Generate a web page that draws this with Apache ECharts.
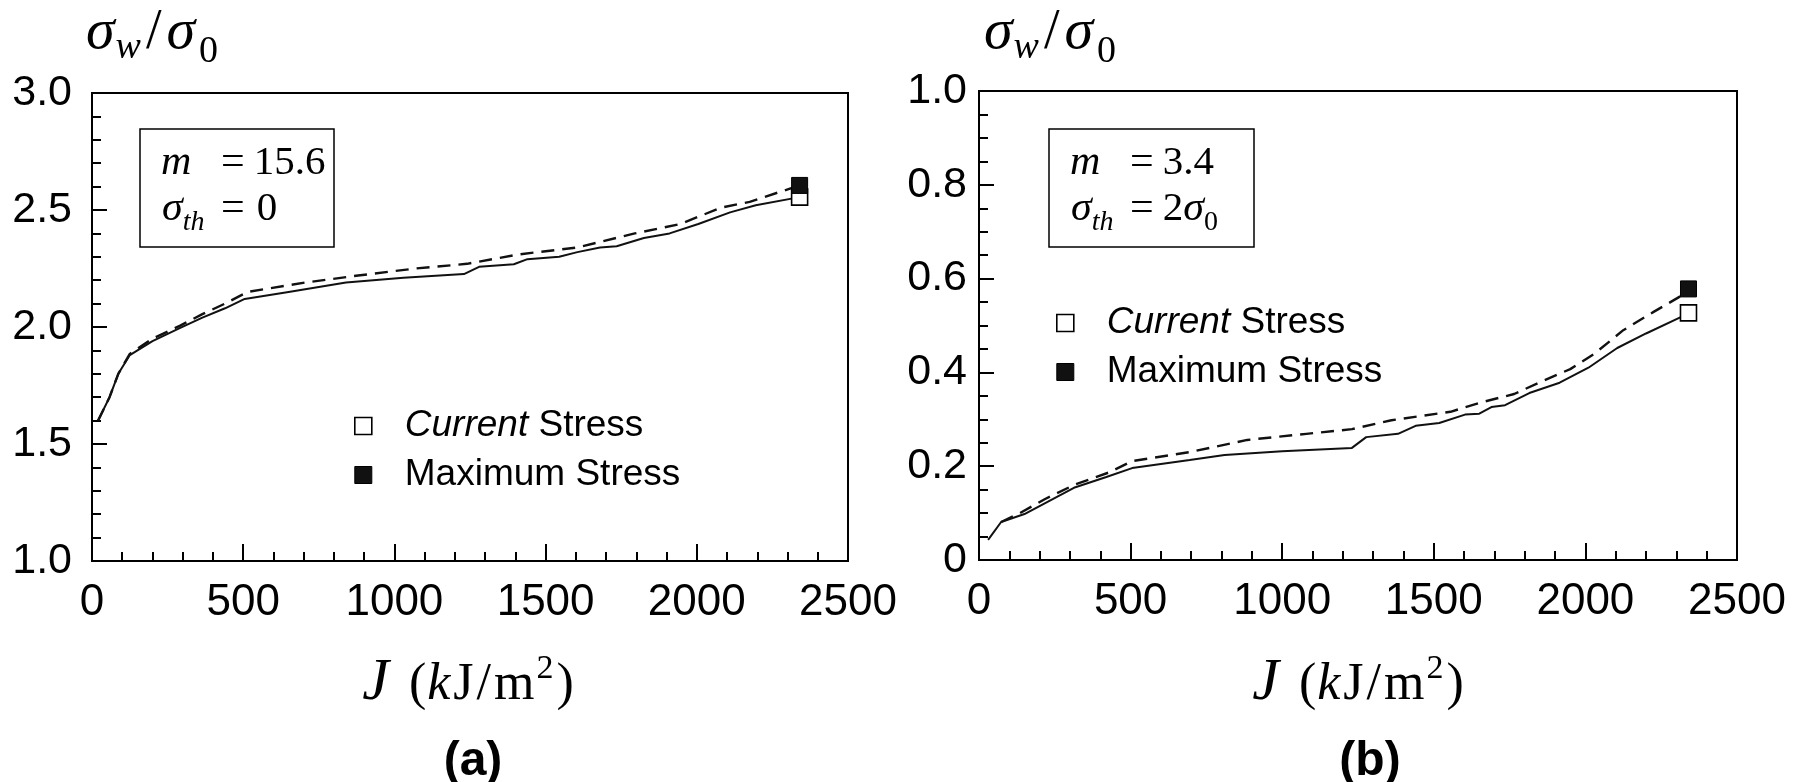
<!DOCTYPE html>
<html>
<head>
<meta charset="utf-8">
<script src="https://cdn.jsdelivr.net/npm/echarts@6/dist/echarts.min.js"></script>
<style>
  html, body { margin: 0; padding: 0; background: #fff; }
  #chart { width: 1804px; height: 782px; }
</style>
</head>
<body>
<div id="chart"></div>
<script>
// ---- data: panel (a), m = 15.6, sigma_th = 0 ----
const aCurrentJ = [20, 58, 87, 125, 200, 290, 365, 440, 505, 650, 840, 1030, 1230, 1280, 1395, 1440, 1545, 1605, 1680, 1735, 1825, 1910, 2005, 2110, 2195, 2340];
const aCurrentS = [1.60, 1.70, 1.80, 1.88, 1.94, 1.995, 2.04, 2.08, 2.12, 2.15, 2.19, 2.21, 2.226, 2.257, 2.268, 2.29, 2.30, 2.32, 2.34, 2.345, 2.38, 2.40, 2.44, 2.49, 2.52, 2.555];
const aMaximumJ = [20, 58, 87, 125, 200, 290, 365, 440, 515, 705, 880, 1070, 1240, 1410, 1605, 1795, 1945, 2080, 2175, 2340];
const aMaximumS = [1.60, 1.70, 1.80, 1.885, 1.95, 2.005, 2.055, 2.10, 2.15, 2.19, 2.22, 2.25, 2.27, 2.31, 2.34, 2.40, 2.44, 2.51, 2.535, 2.605];

// ---- data: panel (b), m = 3.4, sigma_th = 2 sigma_0 ----
const bCurrentJ = [30, 73, 150, 313, 420, 505, 695, 810, 1000, 1230, 1277, 1382, 1440, 1518, 1603, 1650, 1690, 1735, 1815, 1915, 2010, 2105, 2200, 2318, 2340];
const bCurrentS = [0.043, 0.081, 0.098, 0.154, 0.177, 0.196, 0.213, 0.224, 0.232, 0.239, 0.262, 0.269, 0.286, 0.292, 0.310, 0.312, 0.326, 0.330, 0.356, 0.378, 0.410, 0.452, 0.483, 0.519, 0.527];
const bMaximumJ = [73, 135, 218, 313, 430, 505, 695, 885, 1080, 1230, 1360, 1555, 1650, 1765, 1860, 1950, 2030, 2125, 2225, 2310, 2340];
const bMaximumS = [0.081, 0.100, 0.130, 0.160, 0.187, 0.211, 0.230, 0.256, 0.269, 0.279, 0.298, 0.316, 0.335, 0.354, 0.382, 0.407, 0.440, 0.490, 0.529, 0.561, 0.578];

// ---- tick labels ----
const xTickLabels = ['0', '500', '1000', '1500', '2000', '2500'];
const aYTickLabels = ['1.0', '1.5', '2.0', '2.5', '3.0'];
const bYTickLabels = ['0', '0.2', '0.4', '0.6', '0.8', '1.0'];

const seriesNames = ['Current Stress', 'Maximum Stress'];

const SANS = "'Liberation Sans', Arial, Helvetica, sans-serif";
const SERIF = "'Liberation Serif', 'Times New Roman', serif";
const INK = '#111';

const zip = (xs, ys) => xs.map((x, i) => [x, ys[i]]);
const last = arr => arr[arr.length - 1];

// measure text for hand-set math strings
const mctx = document.createElement('canvas').getContext('2d');
function fontOf(p) {
  return (p.it ? 'italic ' : '') + (p.b ? 'bold ' : '') + p.s + 'px ' + (p.f || SERIF);
}
function measure(p) { mctx.font = fontOf(p); return mctx.measureText(p.t).width; }

// lay pieces on a shared baseline; dy shifts sub/superscripts
function mathText(pieces, x, baseline, align) {
  const widths = pieces.map(measure);
  let total = 0;
  pieces.forEach((p, i) => { total += (p.gap || 0) + widths[i]; });
  let cx = align === 'center' ? x - total / 2 : x;
  const out = [];
  pieces.forEach((p, i) => {
    cx += p.gap || 0;
    out.push({
      type: 'text', x: cx, y: baseline + (p.dy || 0) - 0.3375 * p.s, silent: true,
      style: { text: p.t, font: fontOf(p), fill: '#000', align: 'left', verticalAlign: 'middle' }
    });
    cx += widths[i];
  });
  return out;
}

function xAxisCfg(gridIndex) {
  return {
    type: 'value', gridIndex, min: 0, max: 2500, interval: 500,
    axisLine: { show: true, lineStyle: { color: '#000', width: 2 } },
    axisTick: { show: true, inside: true, length: 17, lineStyle: { color: '#000', width: 2 } },
    minorTick: { show: true, splitNumber: 5, length: 9, lineStyle: { color: '#000', width: 2 } },
    splitLine: { show: false }, minorSplitLine: { show: false },
    axisLabel: {
      color: '#000', fontFamily: SANS, fontSize: 44, margin: 20,
      showMinLabel: true, showMaxLabel: true,
      formatter: (v, i) => xTickLabels[i]
    }
  };
}
function yAxisCfg(gridIndex, min, max, interval, split, labels, margin) {
  return {
    type: 'value', gridIndex, min, max, interval,
    axisLine: { show: true, lineStyle: { color: '#000', width: 2 } },
    axisTick: { show: true, inside: true, length: 15, lineStyle: { color: '#000', width: 2 } },
    minorTick: { show: true, splitNumber: split, length: 9, lineStyle: { color: '#000', width: 2 } },
    splitLine: { show: false }, minorSplitLine: { show: false },
    axisLabel: {
      color: '#000', fontFamily: SANS, fontSize: 43, margin,
      showMinLabel: true, showMaxLabel: true,
      formatter: (v, i) => labels[i]
    }
  };
}

function panelSeries(idx, curJ, curS, maxJ, maxS) {
  return [
    {
      type: 'line', xAxisIndex: idx, yAxisIndex: idx, data: zip(curJ, curS),
      symbol: 'none', silent: true, z: 3,
      lineStyle: { color: INK, width: 2 }
    },
    {
      type: 'line', xAxisIndex: idx, yAxisIndex: idx, data: zip(maxJ, maxS),
      symbol: 'none', silent: true, z: 3,
      lineStyle: { color: INK, width: 2.4, type: [13, 8] }
    },
    {
      name: seriesNames[0], type: 'scatter', xAxisIndex: idx, yAxisIndex: idx,
      data: [[last(curJ), last(curS)]], symbol: 'rect', symbolSize: 16, z: 4,
      itemStyle: { color: '#fff', borderColor: '#000', borderWidth: 1.6, opacity: 1 }
    },
    {
      name: seriesNames[1], type: 'scatter', xAxisIndex: idx, yAxisIndex: idx,
      data: [[last(maxJ), last(maxS)]], symbol: 'rect', symbolSize: 16, z: 5,
      itemStyle: { color: INK, borderColor: '#000', borderWidth: 1, opacity: 1 }
    }
  ];
}

function legendCfg(left, top) {
  return {
    left, top, padding: 0, orient: 'vertical', itemWidth: 17, itemHeight: 17, itemGap: 9,
    selectedMode: false, icon: 'rect',
    data: [
      { name: seriesNames[0], itemStyle: { color: '#fff', borderColor: '#000', borderWidth: 1.6 } },
      { name: seriesNames[1], itemStyle: { color: INK, borderColor: '#000', borderWidth: 1 } }
    ],
    formatter: name => name === seriesNames[0] ? '{sp|}{it|Current} Stress' : '{sp|}Maximum Stress',
    textStyle: {
      color: '#000', fontFamily: SANS, fontSize: 37, lineHeight: 40,
      rich: {
        sp: { width: 28 },
        it: { fontStyle: 'italic', fontFamily: SANS, fontSize: 37, color: '#000' }
      }
    }
  };
}

// axis titles, parameter boxes, panel captions
function yTitle(x) {
  return mathText([
    { t: 'σ', s: 58, it: true },
    { t: 'w', s: 38, it: true, dy: 9, gap: 1 },
    { t: '/', s: 56, gap: 5 },
    { t: 'σ', s: 58, it: true, gap: 5 },
    { t: '0', s: 38, dy: 13, gap: 4 }
  ], x, 52, 'left');
}
function xTitle(cx) {
  return mathText([
    { t: 'J', s: 60, it: true },
    { t: '(', s: 52, gap: 20 },
    { t: 'k', s: 52, it: true, gap: 1 },
    { t: 'J', s: 52, gap: 3 },
    { t: '/', s: 52, gap: 3 },
    { t: 'm', s: 52, gap: 3 },
    { t: '2', s: 34, dy: -22, gap: 2 },
    { t: ')', s: 52, gap: 3 }
  ], cx, 703, 'center');
}
function paramBox(x, y, w, h, mX, eqX, mVal, thPieces) {
  const els = [{
    type: 'rect', silent: true, shape: { x, y, width: w, height: h },
    style: { fill: 'none', stroke: '#000', lineWidth: 1.5 }
  }];
  els.push(...mathText([{ t: 'm', s: 42, it: true }], mX, y + 48, 'left'));
  els.push(...mathText([{ t: '=', s: 42 }, { t: mVal, s: 41, gap: 9 }], eqX, y + 48, 'left'));
  els.push(...mathText([{ t: 'σ', s: 42, it: true }, { t: 'th', s: 28, it: true, dy: 9 }], mX + 1, y + 94, 'left'));
  els.push(...mathText([{ t: '=', s: 42 }].concat(thPieces), eqX, y + 94, 'left'));
  return els;
}
function caption(t, cx) {
  return mathText([{ t, s: 48, b: true, f: SANS }], cx, 778, 'center');
}

const graphics = [].concat(
  yTitle(86), yTitle(984),
  xTitle(468), xTitle(1358),
  paramBox(140, 129, 194, 118, 161, 221, '15.6', [{ t: '0', s: 41, gap: 12 }]),
  paramBox(1049, 129, 205, 118, 1070, 1130, '3.4', [{ t: '2', s: 41, gap: 9 }, { t: 'σ', s: 42, it: true }, { t: '0', s: 28, dy: 9 }]),
  caption('(a)', 473), caption('(b)', 1370)
);

const chart = echarts.init(document.getElementById('chart'), null, { renderer: 'canvas' });
chart.setOption({
  animation: false,
  backgroundColor: '#fff',
  grid: [
    { left: 92, top: 93, width: 756, height: 468, show: true, borderColor: '#000', borderWidth: 2, backgroundColor: 'transparent' },
    { left: 979, top: 91, width: 758, height: 469, show: true, borderColor: '#000', borderWidth: 2, backgroundColor: 'transparent' }
  ],
  xAxis: [xAxisCfg(0), xAxisCfg(1)],
  yAxis: [
    yAxisCfg(0, 1, 3, 0.5, 5, aYTickLabels, 20),
    yAxisCfg(1, 0, 1, 0.2, 4, bYTickLabels, 12)
  ],
  legend: [legendCfg(354, 406), legendCfg(1056, 303)],
  series: [].concat(
    panelSeries(0, aCurrentJ, aCurrentS, aMaximumJ, aMaximumS),
    panelSeries(1, bCurrentJ, bCurrentS, bMaximumJ, bMaximumS)
  ),
  graphic: graphics
});
</script>
</body>
</html>
